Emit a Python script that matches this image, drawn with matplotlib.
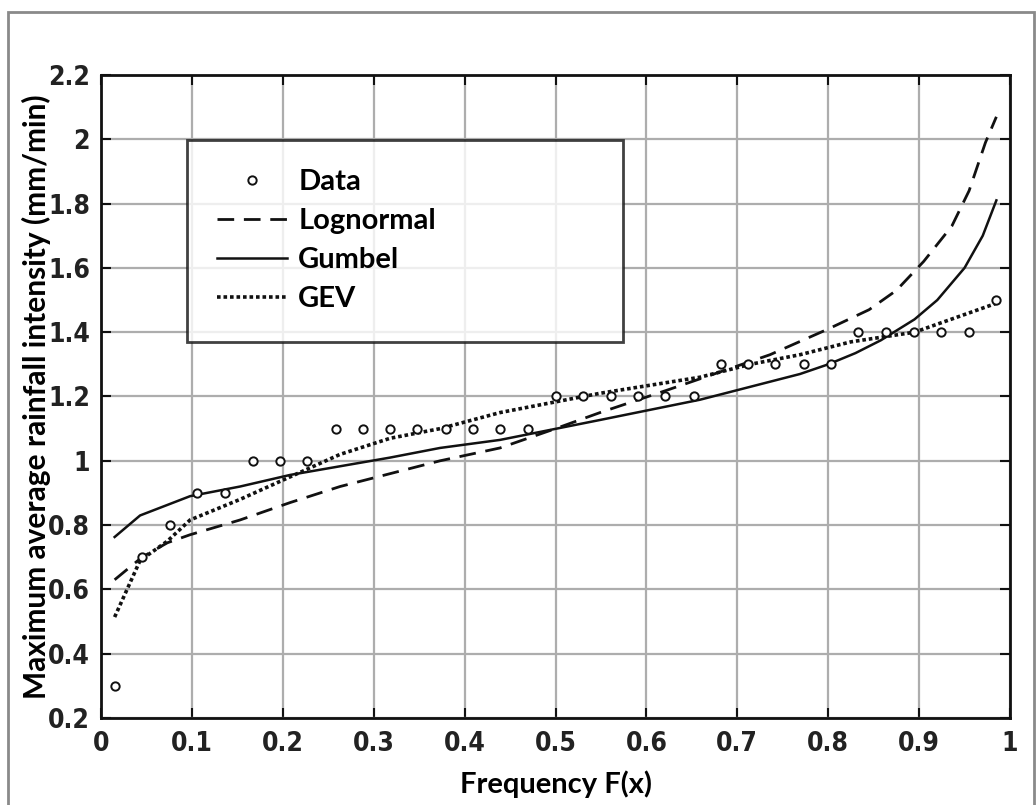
"""Rainfall intensity frequency curves: observed data vs fitted distributions."""

import matplotlib

matplotlib.use("Agg")

import matplotlib.pyplot as plt
from matplotlib.patches import Rectangle

# observed maxima at their plotting positions
data_f = [0.015, 0.045, 0.076, 0.106, 0.136, 0.167, 0.197, 0.227, 0.258,
          0.288, 0.318, 0.348, 0.379, 0.409, 0.439, 0.470, 0.500, 0.530,
          0.561, 0.591, 0.621, 0.652, 0.682, 0.712, 0.742, 0.773, 0.803,
          0.833, 0.864, 0.894, 0.924, 0.955, 0.985]
data_i = [0.3, 0.7, 0.8, 0.9, 0.9, 1.0, 1.0, 1.0, 1.1, 1.1, 1.1, 1.1, 1.1,
          1.1, 1.1, 1.1, 1.2, 1.2, 1.2, 1.2, 1.2, 1.2, 1.3, 1.3, 1.3, 1.3,
          1.3, 1.4, 1.4, 1.4, 1.4, 1.4, 1.5]

logn_f = [0.015, 0.045, 0.073, 0.098, 0.153, 0.208, 0.263, 0.318, 0.373,
          0.439, 0.5, 0.549, 0.623, 0.695, 0.736, 0.80, 0.845, 0.875, 0.905,
          0.936, 0.955, 0.973, 0.985]
logn_i = [0.63, 0.70, 0.745, 0.77, 0.816, 0.87, 0.92, 0.96, 1.0, 1.04,
          1.10, 1.15, 1.22, 1.29, 1.33, 1.41, 1.47, 1.53, 1.62, 1.73, 1.84,
          1.99, 2.07]

gumb_f = [0.015, 0.043, 0.098, 0.153, 0.208, 0.318, 0.373, 0.439, 0.549,
          0.659, 0.714, 0.769, 0.80, 0.83, 0.858, 0.895, 0.92, 0.95, 0.97,
          0.985]
gumb_i = [0.763, 0.83, 0.89, 0.92, 0.956, 1.01, 1.04, 1.065, 1.127, 1.19,
          1.23, 1.27, 1.30, 1.335, 1.375, 1.44, 1.50, 1.60, 1.70, 1.81]

gev_f = [0.015, 0.043, 0.073, 0.098, 0.153, 0.208, 0.263, 0.318, 0.373,
         0.439, 0.549, 0.659, 0.714, 0.769, 0.825, 0.895, 0.985]
gev_i = [0.514, 0.69, 0.75, 0.816, 0.88, 0.95, 1.02, 1.07, 1.10, 1.15, 1.21,
         1.26, 1.30, 1.33, 1.37, 1.40, 1.49]

x_ticks = [0, 0.1, 0.2, 0.3, 0.4, 0.5, 0.6, 0.7, 0.8, 0.9, 1]
x_tick_labels = ["0", "0.1", "0.2", "0.3", "0.4", "0.5", "0.6", "0.7", "0.8",
                 "0.9", "1"]
y_ticks = [0.2, 0.4, 0.6, 0.8, 1.0, 1.2, 1.4, 1.6, 1.8, 2.0, 2.2]
y_tick_labels = ["0.2", "0.4", "0.6", "0.8", "1", "1.2", "1.4", "1.6", "1.8",
                 "2", "2.2"]

tick_font = dict(family=["DejaVu Sans"], fontstretch="condensed",
                 fontweight="bold", fontsize=19, color="#222222")
label_font = ["Lato", "DejaVu Sans"]
ink = "#111111"

fig = plt.figure(figsize=(10.36, 8.05), dpi=100)
# thin grey frame round the whole figure
fig.patches.append(Rectangle((8 / 1036, -0.01), 1026 / 1036, 1 - 12 / 805 + 0.01,
                             transform=fig.transFigure, fill=False,
                             edgecolor="#8a8a8a", linewidth=2))

ax = fig.add_axes([101 / 1036, 1 - 718 / 805, 909 / 1036, 643 / 805])

ax.plot(data_f, data_i, linestyle="none", marker="o", markersize=6,
        markerfacecolor="white", markeredgecolor=ink, markeredgewidth=1.4,
        label="Data", zorder=4)
ax.plot(logn_f, logn_i, linestyle=(0, (6, 3.5)), color=ink, linewidth=2,
        label="Lognormal", zorder=3)
ax.plot(gumb_f, gumb_i, linestyle="-", color=ink, linewidth=1.8,
        label="Gumbel", zorder=3)
ax.plot(gev_f, gev_i, linestyle=(0, (1, 0.8)), color=ink, linewidth=2.6,
        label="GEV", zorder=3)

ax.set_xlim(0, 1)
ax.set_ylim(0.2, 2.2)
ax.set_xticks(x_ticks)
ax.set_xticklabels(x_tick_labels, **tick_font)
ax.set_yticks(y_ticks)
ax.set_yticklabels(y_tick_labels, **tick_font)
ax.tick_params(direction="in", length=7, width=1.5, top=True, right=True,
               color=ink)
ax.tick_params(axis="x", pad=9)
ax.tick_params(axis="y", pad=8)
ax.grid(True, color="#adadad", linewidth=1.6)
ax.set_axisbelow(True)
for spine in ax.spines.values():
    spine.set_linewidth(2)
    spine.set_color(ink)

ax.set_xlabel("Frequency F(x)", family=label_font, fontweight="bold",
              fontsize=21, labelpad=10)
ax.set_ylabel("Maximum average rainfall intensity (mm/min)", family=label_font,
              fontweight="bold", fontsize=21.5, labelpad=-2)

leg = ax.legend(loc="upper left", bbox_to_anchor=(0.095, 0.58, 0.479, 0.319),
                mode="expand", prop={"family": label_font, "weight": "bold",
                                     "size": 21},
                frameon=True, fancybox=False, handlelength=2.4,
                handletextpad=0.4, labelspacing=0.45, borderpad=1.0,
                borderaxespad=0)
leg.get_frame().set_edgecolor(ink)
leg.get_frame().set_linewidth(2)

fig.savefig("out.png", dpi=100)
plt.close(fig)
